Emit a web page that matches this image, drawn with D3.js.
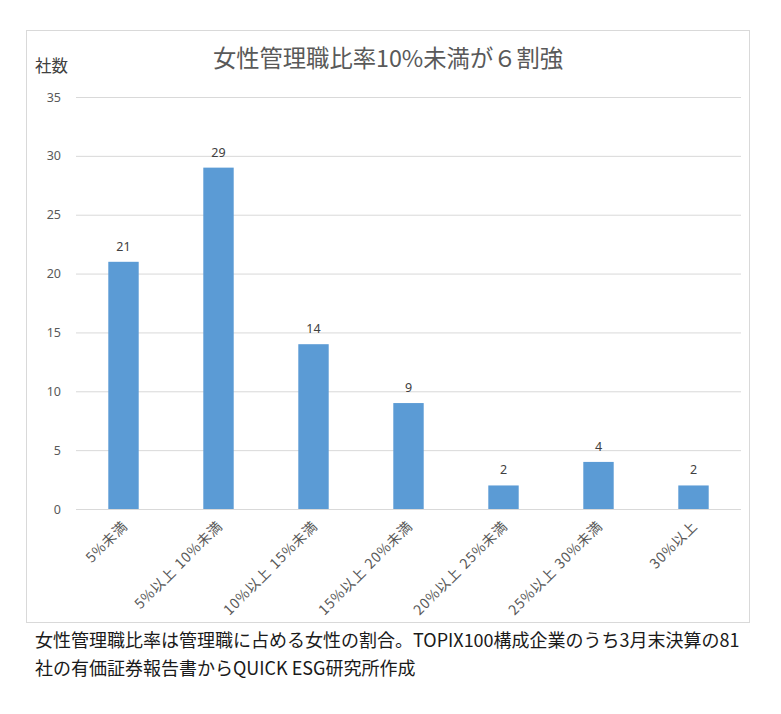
<!DOCTYPE html>
<html><head><meta charset="utf-8">
<script src="https://cdn.jsdelivr.net/npm/d3@7"></script>
<style>
body{margin:0;background:#fff;}
svg{display:block;font-family:"Noto Sans CJK JP","Noto Sans",sans-serif;}
</style></head>
<body>
<svg id="c" width="781" height="714"></svg>
<script>
const categories = ["5%未満","5%以上 10%未満","10%以上 15%未満","15%以上 20%未満","20%以上 25%未満","25%以上 30%未満","30%以上"];
const counts = [21, 29, 14, 9, 2, 4, 2];
const yTicks = [0,5,10,15,20,25,30,35];
const title = "女性管理職比率10%未満が６割強";
const yLabel = "社数";
const caption = ["女性管理職比率は管理職に占める女性の割合。TOPIX100構成企業のうち3月末決算の81","社の有価証券報告書からQUICK ESG研究所作成"];

const svg = d3.select("#c");
svg.append("rect").attr("x",26.5).attr("y",30.5).attr("width",723).attr("height",592)
  .attr("fill","#fff").attr("stroke","#d9d9d9");

const x = d3.scaleBand().domain(categories).range([76,741]).paddingInner(0.68).paddingOuter(0.34);
const y = d3.scaleLinear().domain([0,35]).range([509,97]);

const gy = svg.append("g").attr("transform","translate(76,0)")
  .call(d3.axisLeft(y).tickValues(yTicks).tickSize(-665).tickPadding(15));
gy.select(".domain").remove();
gy.selectAll(".tick line").attr("stroke","#d9d9d9");
gy.selectAll(".tick text").attr("fill","#595959").style("font-size","12.5px").style("font-family","'Noto Sans',sans-serif");

svg.append("g").selectAll("rect").data(counts).join("rect")
  .attr("x",(d,i)=>x(categories[i])).attr("width",x.bandwidth())
  .attr("y",d=>y(d)).attr("height",d=>y(0)-y(d)).attr("fill","#5b9bd5");

svg.append("g").selectAll("text").data(counts).join("text")
  .attr("x",(d,i)=>x(categories[i])+x.bandwidth()/2).attr("y",d=>y(d)-11)
  .attr("text-anchor","middle").attr("fill","#404040").style("font-size","12.5px")
  .style("font-family","'Noto Sans',sans-serif").text(d=>d);

svg.append("g").selectAll("text").data(categories).join("text")
  .attr("transform",d=>`translate(${x(d)+x.bandwidth()/2-2},${520}) rotate(-45)`)
  .attr("text-anchor","end").attr("dy","0.7em").attr("fill","#595959").style("font-size","14px")
  .style("letter-spacing","0.8px").style("word-spacing","1px")
  .text(d=>d);

svg.append("text").attr("x",388).attr("y",67).attr("text-anchor","middle").attr("fill","#595959")
  .style("font-size","23.3px").text(title);
svg.append("text").attr("x",35).attr("y",72).attr("fill","#404040").style("font-size","16.5px").text(yLabel);

svg.append("g").selectAll("text").data(caption).join("text")
  .attr("x",35).attr("y",(d,i)=>647+i*28).attr("fill","#1a1a1a").style("font-size","18px").text(d=>d);
</script>
</body></html>
